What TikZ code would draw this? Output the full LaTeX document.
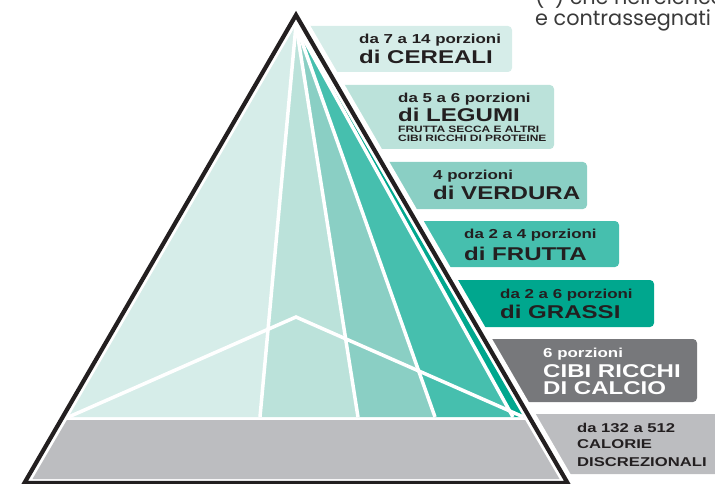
\documentclass[tikz,border=0pt]{standalone}
\usepackage{fontspec}
\newfontfamily\lab{Liberation Sans}[FakeStretch=1.3]
\newfontfamily\geo{Poppins}
\definecolor{cA}{HTML}{D6EDE9}
\definecolor{cB}{HTML}{BBE2DA}
\definecolor{cC}{HTML}{8ACFC4}
\definecolor{cD}{HTML}{46BFAE}
\definecolor{cE}{HTML}{00A78E}
\definecolor{gD}{HTML}{77787B}
\definecolor{gL}{HTML}{BCBDC0}
\definecolor{ink}{HTML}{231F20}
\definecolor{note}{HTML}{3A3A3A}
\begin{document}
\begin{tikzpicture}[x=1pt,y=-1pt,
  txt/.style={anchor=base west, inner sep=0pt, text=ink},
  sm/.style={txt, font=\lab\bfseries\fontsize{13}{13}\selectfont},
  big/.style={txt, font=\lab\bfseries\fontsize{18.5}{18.5}\selectfont},
  tiny/.style={txt, font=\lab\bfseries\fontsize{9.2}{9.2}\selectfont},
  mid/.style={txt, font=\lab\bfseries\fontsize{12.8}{12.8}\selectfont},
  notetxt/.style={anchor=base west, inner sep=0pt, text=note, font=\geo\fontsize{20.8}{20.8}\selectfont},
  lbox/.style={rounded corners=4pt},
  wline/.style={white, line width=3.5pt},
  edge/.style={ink, line width=4.2pt, line join=miter}]
\useasboundingbox (0,0) rectangle (715,484);
\clip (0,0) rectangle (715,484);
% label boxes
\fill[cA, lbox] (297,26) rectangle (512,72);
\fill[cB, lbox] (332,85) rectangle (554,149);
\fill[cC, lbox] (376,162) rectangle (587,209);
\fill[cD, lbox] (410,221) rectangle (619,267);
\fill[cE, lbox] (445,280) rectangle (654,327);
\fill[gD, lbox] (479,339) rectangle (697,402);
\fill[gL, lbox] (522,414) rectangle (730,474);
% pyramid
\coordinate (T) at (296,15);
\coordinate (L) at (24.4,483);
\coordinate (R) at (567.6,483);
\draw[white, fill=white, line width=14pt, line join=miter] (T) -- (L) -- (R) -- cycle;
\coordinate (A) at (296,25);
\coordinate (BL) at (68.5,417);
\coordinate (BR) at (523.5,417);
\coordinate (P1) at (260,417);
\coordinate (P2) at (358,417);
\coordinate (P3) at (435,417);
\coordinate (P4) at (513,417);
\coordinate (M) at (296,317);
\fill[cA] (A) -- (BL) -- (P1) -- cycle;
\fill[cB] (A) -- (P1) -- (P2) -- cycle;
\fill[cC] (A) -- (P2) -- (P3) -- cycle;
\fill[cD] (A) -- (P3) -- (P4) -- cycle;
\fill[cE] (A) -- (P4) -- (BR) -- cycle;
\fill[gL] (66.9,420) -- (525.1,420) -- (559.5,479) -- (32.5,479) -- cycle;
\draw[wline] (A) -- (P1);
\draw[wline] (A) -- (P2);
\draw[wline] (A) -- (P3);
\draw[wline] (A) -- (P4);
\draw[wline, line join=miter] (BL) -- (M) -- (BR);
\draw[edge] (T) -- (L) -- (R) -- cycle;
% texts
\node[sm] (c1) at (359,44) {da 7 a 14 porzioni};
\node[big] (c2) at (359,64) {di CEREALI};
\node[sm] (l1) at (398,103) {da 5 a 6 porzioni};
\node[big] (l2) at (398,122) {di LEGUMI};
\node[tiny] (l3) at (398,133) {FRUTTA SECCA E ALTRI};
\node[tiny] (l4) at (398,142) {CIBI RICCHI DI PROTEINE};
\node[sm] (v1) at (433,179) {4 porzioni};
\node[big] (v2) at (433,200) {di VERDURA};
\node[sm] (f1) at (464,238) {da 2 a 4 porzioni};
\node[big] (f2) at (464,260) {di FRUTTA};
\node[sm] (g1) at (500,298) {da 2 a 6 porzioni};
\node[big] (g2) at (500,318) {di GRASSI};
\node[sm, text=white] (k1) at (543,357) {6 porzioni};
\node[big, text=white] (k2) at (543,377) {CIBI RICCHI};
\node[big, text=white] (k3) at (543,394) {DI CALCIO};
\node[mid] (d1) at (577,432) {da 132 a 512};
\node[mid] (d2) at (577,448) {CALORIE};
\node[mid] (d3) at (577,466) {DISCREZIONALI};
\node[notetxt] (n1) at (535,5) {(*) che nell'elenco};
\node[notetxt] (n2) at (535,26) {e contrassegnati};
\end{tikzpicture}
\end{document}
